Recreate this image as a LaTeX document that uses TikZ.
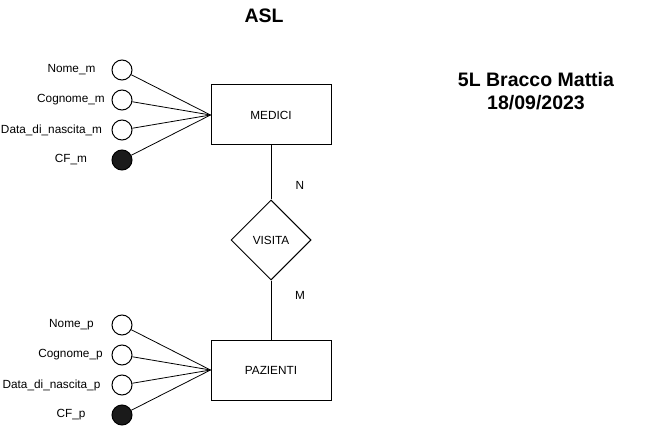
\documentclass[tikz,border=0pt]{standalone}
\usepackage{fontspec}
\setmainfont{Liberation Sans}
\usetikzlibrary{shapes.geometric}
\definecolor{keyfill}{HTML}{1A1A1A}
\begin{document}
\begin{tikzpicture}[x=1pt,y=-1pt,
  every node/.style={font=\fontsize{11.8}{14}\selectfont},
  entity/.style={draw,line width=1pt,minimum width=120pt,minimum height=60pt,inner sep=0pt},
  relation/.style={draw,line width=1pt,diamond,minimum width=80pt,minimum height=80pt,inner sep=0pt},
  attr/.style={draw,line width=1pt,circle,minimum size=20pt,inner sep=0pt,fill=white},
  keyattr/.style={attr,fill=keyfill},
  lbl/.style={inner sep=0pt},
  link/.style={line width=0.8pt},
  titletext/.style={font=\bfseries\fontsize{19.5}{23}\selectfont,align=center}]
\useasboundingbox (0,0) rectangle (652,430);

\node[titletext] (title) at (264,16) {ASL};
\node[titletext] (author) at (536,91) {5L Bracco Mattia\\18/09/2023};

\node[entity] (medici) at (271,115) {MEDICI};
\node[relation] (visita) at (271,240) {VISITA};
\node[entity] (pazienti) at (271,370) {PAZIENTI};

\node[attr] (nm) at (122,70) {};
\node[attr] (cm) at (122,100) {};
\node[attr] (dm) at (122,130) {};
\node[keyattr] (fm) at (122,160) {};
\node[lbl] (lnm) at (71.5,70) {Nome\_m};
\node[lbl] (lcm) at (71,100) {Cognome\_m};
\node[lbl] (ldm) at (51.5,130) {Data\_di\_nascita\_m};
\node[lbl] (lfm) at (71,160) {CF\_m};

\node[attr] (np) at (122,325) {};
\node[attr] (cp) at (122,355) {};
\node[attr] (dp) at (122,385) {};
\node[keyattr] (fp) at (122,415) {};
\node[lbl] (lnp) at (71.5,325) {Nome\_p};
\node[lbl] (lcp) at (70.5,355) {Cognome\_p};
\node[lbl] (ldp) at (51.5,385) {Data\_di\_nascita\_p};
\node[lbl] (lfp) at (71,415) {CF\_p};

\foreach \a in {nm,cm,dm,fm} \draw[link] (\a) -- (medici.west);
\foreach \a in {np,cp,dp,fp} \draw[link] (\a) -- (pazienti.west);

\draw[link] (medici.south) -- (visita.north);
\draw[link] (visita.south) -- (pazienti.north);

\node[lbl] (n) at (300,185) {N};
\node[lbl] (m) at (300,295) {M};
\end{tikzpicture}
\end{document}
